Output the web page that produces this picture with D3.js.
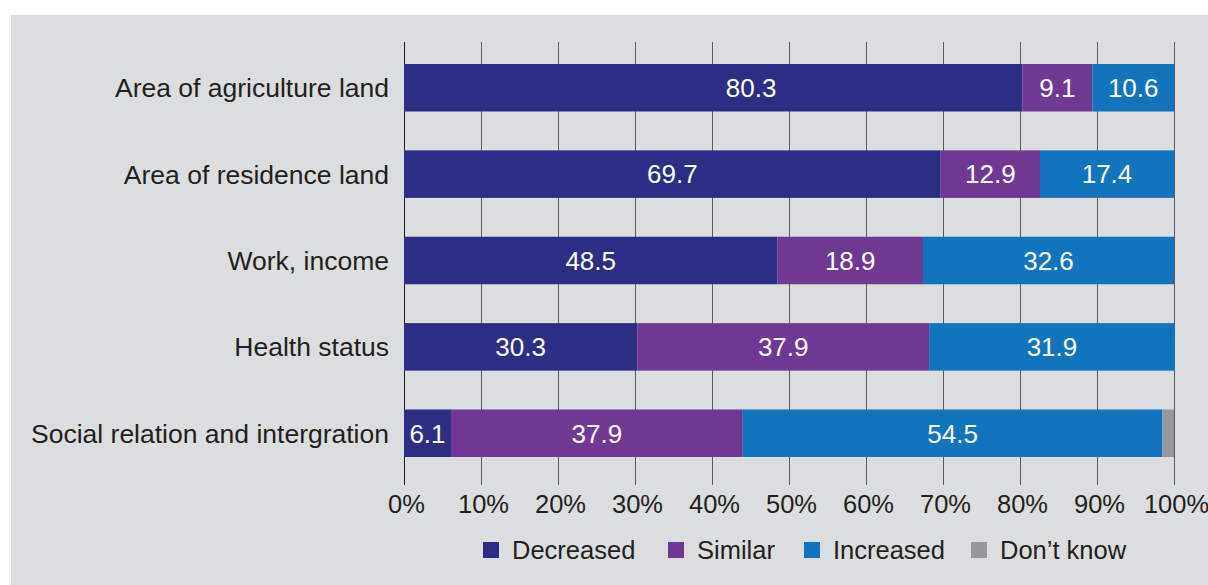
<!DOCTYPE html>
<html>
<head>
<meta charset="utf-8">
<script src="https://cdn.jsdelivr.net/npm/d3@7/dist/d3.min.js"></script>
<style>
  html, body { margin: 0; padding: 0; background: #ffffff; }
  svg { display: block; font-family: "Liberation Sans", Arial, sans-serif; }
</style>
</head>
<body>
<svg id="chart" width="1208" height="585"></svg>
<script>
// Survey results: perceived change after resettlement (%)
const categories = [
  "Area of agriculture land",
  "Area of residence land",
  "Work, income",
  "Health status",
  "Social relation and intergration"
];
const seriesNames = ["Decreased", "Similar", "Increased", "Don\u2019t know"];
const decreased = [80.3, 69.7, 48.5, 30.3, 6.1];
const similar   = [9.1, 12.9, 18.9, 37.9, 37.9];
const increased = [10.6, 17.4, 32.6, 31.9, 54.5];
const dontKnow  = [0, 0, 0, 0, 1.5];
const tickValues = [0, 10, 20, 30, 40, 50, 60, 70, 80, 90, 100];
const colors = ["#2e2d84", "#6f3893", "#1174bd", "#97989b"];

const rows = categories.map((c, i) => ({
  category: c,
  "Decreased": decreased[i],
  "Similar": similar[i],
  "Increased": increased[i],
  "Don\u2019t know": dontKnow[i]
}));

const svg = d3.select("#chart");
const textColor = "#231f20";

// panel background
svg.append("rect")
  .attr("x", 11).attr("y", 15)
  .attr("width", 1208 - 11).attr("height", 585 - 15)
  .attr("fill", "#dcdddf");

const x = d3.scaleLinear().domain([0, 100]).range([404, 1174]);
const y = d3.scaleBand().domain(categories).range([45, 476]).paddingInner(0.45).paddingOuter(0.22);

const gridTop = 42, gridBottom = 485;

// vertical gridlines
svg.append("g").selectAll("line")
  .data(tickValues)
  .join("line")
  .attr("x1", d => x(d) + 0.5).attr("x2", d => x(d) + 0.5)
  .attr("y1", gridTop).attr("y2", gridBottom)
  .attr("stroke", d => d === 0 ? "#1a1a1a" : "#5a5a5a")
  .attr("stroke-width", 1);

// stacked bars
const stack = d3.stack().keys(seriesNames)(rows);
const layers = svg.append("g").selectAll("g")
  .data(stack)
  .join("g")
  .attr("fill", (d, i) => colors[i]);

layers.selectAll("rect")
  .data(d => d)
  .join("rect")
  .attr("x", d => x(d[0]))
  .attr("y", d => y(d.data.category))
  .attr("width", d => x(d[1]) - x(d[0]))
  .attr("height", y.bandwidth());

// the long top bar carries its label right of centre
const labelShift = { "Area of agriculture land|Decreased": 38 };

// value labels (the small grey segment has none)
layers.filter((d, i) => i < 3).selectAll("text")
  .data(d => d.map(v => ({ v, key: d.key })))
  .join("text")
  .attr("x", d => (x(d.v[0]) + x(d.v[1])) / 2 + (labelShift[d.v.data.category + "|" + d.key] || 0))
  .attr("y", d => y(d.v.data.category) + y.bandwidth() / 2)
  .attr("dy", "0.36em")
  .attr("text-anchor", "middle")
  .attr("fill", "#ffffff")
  .attr("font-size", 26)
  .text(d => d.v.data[d.key].toFixed(1));

// category labels
svg.append("g").selectAll("text")
  .data(categories)
  .join("text")
  .attr("x", 389)
  .attr("y", d => y(d) + y.bandwidth() / 2)
  .attr("dy", "0.36em")
  .attr("text-anchor", "end")
  .attr("fill", textColor)
  .attr("font-size", 26.5)
  .text(d => d);

// x axis tick labels
const xAxis = d3.axisBottom(x).tickValues(tickValues).tickSize(0).tickPadding(0).tickFormat(d => d + "%");
const ax = svg.append("g").attr("transform", "translate(2,495)").call(xAxis);
ax.select(".domain").remove();
ax.selectAll("text")
  .attr("font-size", 25.5)
  .attr("font-family", "\"Liberation Sans\", Arial, sans-serif")
  .attr("fill", textColor)
  .attr("dy", "0.71em");

// legend
const legendX = [483, 668, 804, 971];
const legend = svg.append("g").selectAll("g")
  .data(seriesNames)
  .join("g")
  .attr("transform", (d, i) => `translate(${legendX[i]},542)`);
legend.append("rect")
  .attr("width", 16).attr("height", 16)
  .attr("fill", (d, i) => colors[i]);
legend.append("text")
  .attr("x", 29).attr("y", 8)
  .attr("dy", "0.36em")
  .attr("font-size", 25.5)
  .attr("fill", textColor)
  .text(d => d);
</script>
</body>
</html>
